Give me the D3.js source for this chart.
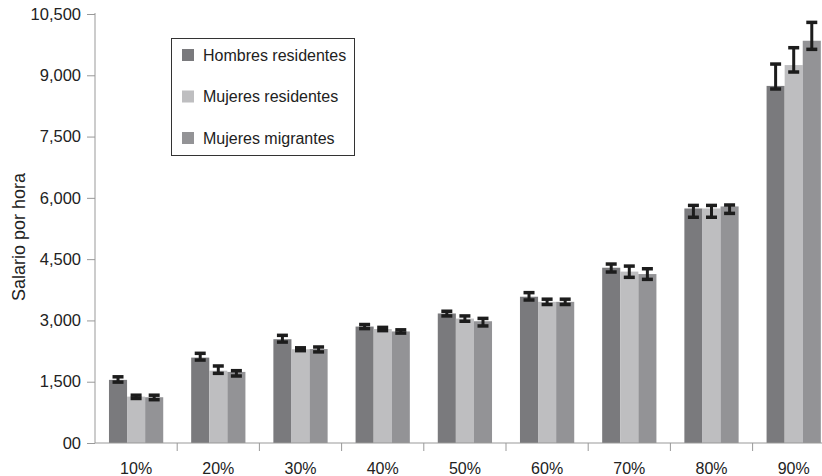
<!DOCTYPE html>
<html>
<head>
<meta charset="utf-8">
<script src="https://cdn.jsdelivr.net/npm/d3@7"></script>
<style>
  body { margin: 0; background: #fff; }
  svg { display: block; font-family: "Liberation Sans", Arial, sans-serif; }
</style>
</head>
<body>
<div id="chart"></div>
<script>
// data
const categories = ["10%", "20%", "30%", "40%", "50%", "60%", "70%", "80%", "90%"];
const seriesNames = ["Hombres residentes", "Mujeres residentes", "Mujeres migrantes"];

const hombres   = [1545, 2090, 2540, 2850, 3170, 3580, 4290, 5740, 8740];
const hombresLo = [1490, 2030, 2470, 2800, 3110, 3500, 4185, 5525, 8665];
const hombresHi = [1620, 2195, 2635, 2900, 3225, 3680, 4380, 5815, 9275];

const mujeresRes   = [1135, 1770, 2295, 2790, 3045, 3455, 4195, 5740, 9250];
const mujeresResLo = [1090, 1705, 2260, 2750, 2980, 3390, 4055, 5525, 9080];
const mujeresResHi = [1170, 1885, 2330, 2830, 3110, 3520, 4330, 5815, 9675];

const mujeresMig   = [1120, 1740, 2300, 2730, 2980, 3455, 4135, 5790, 9845];
const mujeresMigLo = [1060, 1640, 2230, 2690, 2865, 3390, 4005, 5620, 9635];
const mujeresMigHi = [1170, 1770, 2350, 2770, 3050, 3520, 4265, 5825, 10295];

const yTicks = [0, 1500, 3000, 4500, 6000, 7500, 9000, 10500];

const width = 822, height = 476;
const colors = ["#7a7a7d", "#bebec0", "#939396"];

const seriesData = [
  { name: seriesNames[0], values: hombres, lo: hombresLo, hi: hombresHi },
  { name: seriesNames[1], values: mujeresRes, lo: mujeresResLo, hi: mujeresResHi },
  { name: seriesNames[2], values: mujeresMig, lo: mujeresMigLo, hi: mujeresMigHi }
];

const svg = d3.select("#chart")
  .append("svg")
  .attr("width", width)
  .attr("height", height);

const x0 = d3.scaleBand()
  .domain(categories)
  .range([95, 95 + 9 * 82.2])
  .paddingInner(0.34)
  .paddingOuter(0.17);

const x1 = d3.scaleBand()
  .domain(seriesNames)
  .range([0, x0.bandwidth()]);

const y = d3.scaleLinear().domain([0, 10500]).range([443, 14]);

// bars
seriesData.forEach((s, si) => {
  const g = svg.append("g");
  g.selectAll("rect")
    .data(categories)
    .enter()
    .append("rect")
    .attr("x", (d) => x0(d) + x1(s.name))
    .attr("width", x1.bandwidth())
    .attr("y", (d, i) => y(s.values[i]))
    .attr("height", (d, i) => y(0) - y(s.values[i]))
    .attr("fill", colors[si]);
});

// error bars
seriesData.forEach((s) => {
  const g = svg.append("g")
    .attr("stroke", "#1c1c1c")
    .attr("fill", "none");
  categories.forEach((c, i) => {
    const cx = x0(c) + x1(s.name) + x1.bandwidth() / 2;
    g.append("line")
      .attr("x1", cx).attr("x2", cx)
      .attr("y1", y(s.lo[i])).attr("y2", y(s.hi[i]))
      .attr("stroke-width", 3);
    [s.lo[i], s.hi[i]].forEach((v) => {
      g.append("line")
        .attr("x1", cx - 5.5).attr("x2", cx + 5.5)
        .attr("y1", y(v)).attr("y2", y(v))
        .attr("stroke-width", 3.5);
    });
  });
});

// y axis
const yAxis = d3.axisLeft(y)
  .tickValues(yTicks)
  .tickFormat((d) => (d === 0 ? "00" : d3.format(",")(d)))
  .tickSize(8)
  .tickPadding(6);

const yg = svg.append("g")
  .attr("transform", "translate(95,0)")
  .call(yAxis);
yg.select(".domain").attr("stroke", "#999").attr("d", "M0,13V443");
yg.selectAll(".tick line").attr("stroke", "#999");
yg.selectAll(".tick text")
  .attr("fill", "#222")
  .style("font-size", "16.5px");

// x axis
svg.append("line")
  .attr("x1", 95).attr("x2", width)
  .attr("y1", 443).attr("y2", 443)
  .attr("stroke", "#999");

svg.append("g")
  .selectAll("line")
  .data(categories)
  .enter()
  .append("line")
  .attr("x1", (d) => x0(d) + x0.bandwidth() + (x0.step() - x0.bandwidth()) / 2)
  .attr("x2", (d) => x0(d) + x0.bandwidth() + (x0.step() - x0.bandwidth()) / 2)
  .attr("y1", 443)
  .attr("y2", 451)
  .attr("stroke", "#999");

svg.append("g")
  .selectAll("text")
  .data(categories)
  .enter()
  .append("text")
  .attr("x", (d) => x0(d) + x0.bandwidth() / 2)
  .attr("y", 474)
  .attr("text-anchor", "middle")
  .attr("fill", "#222")
  .style("font-size", "16px")
  .text((d) => d);

// y title
svg.append("text")
  .attr("transform", "translate(25,237) rotate(-90)")
  .attr("text-anchor", "middle")
  .attr("fill", "#222")
  .style("font-size", "18px")
  .text("Salario por hora");

// legend
const legend = svg.append("g");
legend.append("rect")
  .attr("x", 171.5).attr("y", 38.5)
  .attr("width", 183).attr("height", 117)
  .attr("fill", "#fff")
  .attr("stroke", "#333");

const rows = [55, 96.5, 138];
seriesNames.forEach((name, i) => {
  legend.append("rect")
    .attr("x", 182).attr("y", rows[i] - 6)
    .attr("width", 12).attr("height", 12)
    .attr("fill", colors[i]);
  legend.append("text")
    .attr("x", 203).attr("y", rows[i] + 5.5)
    .attr("fill", "#222")
    .style("font-size", "16px")
    .text(name);
});
</script>
</body>
</html>
